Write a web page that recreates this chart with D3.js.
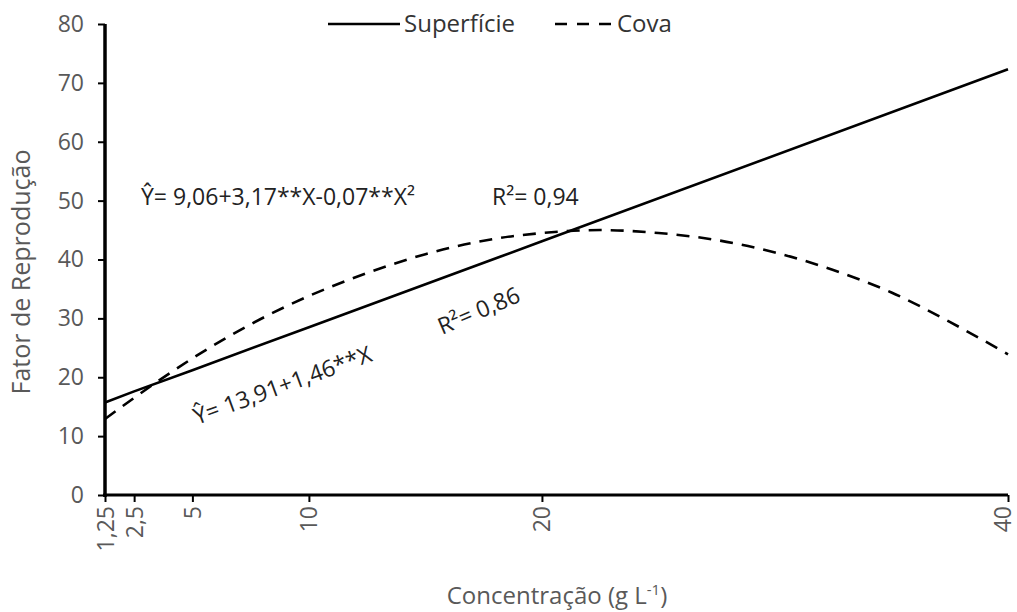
<!DOCTYPE html>
<html>
<head>
<meta charset="utf-8">
<script src="https://cdn.jsdelivr.net/npm/d3@7/dist/d3.min.js"></script>
<style>
  html, body { margin: 0; padding: 0; background: #fff; }
  svg text { font-family: "Open Sans", "Noto Sans", sans-serif; }
</style>
</head>
<body>
<div id="chart"></div>
<script>
// concentration levels shown on the x axis
const xTicks = [1.25, 2.5, 5, 10, 20, 40];
const xTickLabels = ["1,25", "2,5", "5", "10", "20", "40"];
const yTicks = [0, 10, 20, 30, 40, 50, 60, 70, 80];

// Superfície (solid, linear fit)
const supX = [1.25, 2.5, 5, 10, 20, 40];
const supY = [15.7, 17.6, 21.2, 28.5, 43.1, 72.3];

// Cova (dashed, quadratic fit)
const covaX = [1.25, 2.5, 5, 7.5, 10, 12.5, 15, 17.5, 20, 22.5, 25, 27.5, 30, 32.5, 35, 37.5, 40];
const covaY = [12.9, 16.5, 23.2, 29.0, 33.8, 37.7, 40.9, 43.2, 44.5, 45.0, 44.5, 43.3, 41.2, 38.2, 34.4, 29.4, 23.9];

const width = 1017, height = 612;

const svg = d3.select("#chart").append("svg")
    .attr("width", width)
    .attr("height", height);

const x = d3.scaleLinear().domain([1.25, 40]).range([105, 1008]);
const y = d3.scaleLinear().domain([0, 80]).range([495, 24]);

const grey = "#595959";

// y axis
const yAxis = svg.append("g")
    .attr("transform", `translate(${x(1.25)},0)`)
    .call(d3.axisLeft(y).tickValues(yTicks).tickSize(7).tickPadding(14));
yAxis.select(".domain").attr("stroke", "#000").attr("stroke-width", 3.5).attr("d", `M0,${y(80)}V${y(0) + 2}`);
yAxis.selectAll(".tick line").attr("stroke", "#000").attr("stroke-width", 2);
yAxis.selectAll(".tick text")
    .attr("fill", grey)
    .style("font-size", "23px");

// x axis
const xAxis = svg.append("g")
    .attr("transform", `translate(0,${y(0)})`)
    .call(d3.axisBottom(x).tickValues(xTicks).tickSize(7).tickFormat((d, i) => xTickLabels[i]));
xAxis.select(".domain").attr("stroke", "#000").attr("stroke-width", 3).attr("d", `M${x(1.25) - 2},0H${x(40)}`);
xAxis.selectAll(".tick line").attr("stroke", "#000").attr("stroke-width", 2);
xAxis.selectAll(".tick text")
    .attr("fill", grey)
    .style("font-size", "23px")
    .attr("text-anchor", "end")
    .attr("transform", "rotate(-90)")
    .attr("x", -11)
    .attr("y", 0)
    .attr("dy", d => d === 40 ? "0.12em" : "0.35em");

// lines
const supLine = d3.line()
    .x(d => x(d[0]))
    .y(d => y(d[1]));
svg.append("path")
    .datum(supX.map((v, i) => [v, supY[i]]))
    .attr("fill", "none")
    .attr("stroke", "#000")
    .attr("stroke-width", 2.6)
    .attr("d", supLine);

const covaLine = d3.line()
    .x(d => x(d[0]))
    .y(d => y(d[1]))
    .curve(d3.curveMonotoneX);
svg.append("path")
    .datum(covaX.map((v, i) => [v, covaY[i]]))
    .attr("fill", "none")
    .attr("stroke", "#000")
    .attr("stroke-width", 2.6)
    .attr("stroke-dasharray", "13,9")
    .attr("d", covaLine);

// legend
const legend = svg.append("g");
legend.append("line")
    .attr("x1", 328).attr("x2", 400).attr("y1", 24).attr("y2", 24)
    .attr("stroke", "#000").attr("stroke-width", 2.6);
legend.append("text")
    .attr("x", 404).attr("y", 32)
    .attr("fill", "#333")
    .style("font-size", "24px")
    .text("Superfície");
legend.append("line")
    .attr("x1", 555).attr("x2", 616).attr("y1", 24).attr("y2", 24)
    .attr("stroke", "#000").attr("stroke-width", 2.6)
    .attr("stroke-dasharray", "12,10");
legend.append("text")
    .attr("x", 617).attr("y", 32)
    .attr("fill", "#333")
    .style("font-size", "24px")
    .text("Cova");

// equations
const eqColor = "#222";
svg.append("text")
    .attr("x", 141).attr("y", 205)
    .attr("fill", eqColor)
    .style("font-size", "23px")
    .text("Ŷ= 9,06+3,17**X-0,07**X²");
svg.append("text")
    .attr("x", 492).attr("y", 205)
    .attr("fill", eqColor)
    .style("font-size", "23px")
    .text("R²= 0,94");
svg.append("text")
    .attr("transform", "translate(197,425) rotate(-20)")
    .attr("fill", eqColor)
    .style("font-size", "23px")
    .text("Ŷ= 13,91+1,46**X");
svg.append("text")
    .attr("transform", "translate(442,335) rotate(-23)")
    .attr("fill", eqColor)
    .style("font-size", "23px")
    .text("R²= 0,86");

// axis titles
svg.append("text")
    .attr("transform", "translate(30,272) rotate(-90)")
    .attr("text-anchor", "middle")
    .attr("fill", grey)
    .style("font-size", "25px")
    .text("Fator de Reprodução");

const xt = svg.append("text")
    .attr("x", 557).attr("y", 604)
    .attr("text-anchor", "middle")
    .attr("fill", grey)
    .style("font-size", "24px");
xt.append("tspan").text("Concentração (g L");
xt.append("tspan").attr("dy", -9).style("font-size", "15px").text("-1");
xt.append("tspan").attr("dy", 9).text(")");
</script>
</body>
</html>
